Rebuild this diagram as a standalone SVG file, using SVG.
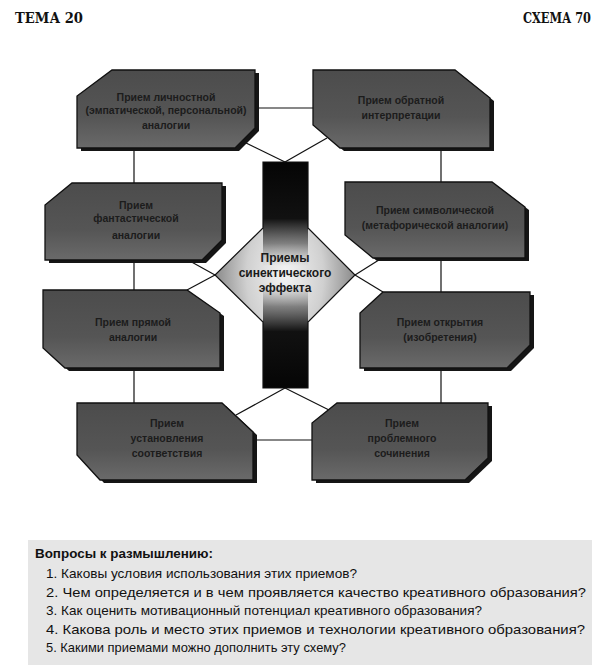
<svg xmlns="http://www.w3.org/2000/svg" width="607" height="671" viewBox="0 0 607 671">
<style>
.hdr{font-family:"DejaVu Serif","Liberation Serif",serif;font-weight:bold;font-size:14px;fill:#111}
.box{fill:url(#boxg);stroke:#111;stroke-width:1.3}
.shd{fill:#151515}
.bt{font-family:"Liberation Sans",Arial,sans-serif;font-weight:bold;font-size:10.5px;fill:#1c1c1c;text-anchor:middle}
.ct{font-family:"Liberation Sans",Arial,sans-serif;font-weight:bold;font-size:12px;fill:#1a1a1a;text-anchor:middle}
.ln{stroke:#111;stroke-width:1.2;fill:none}
.qt{font-family:"Liberation Sans",Arial,sans-serif;font-size:13.5px;fill:#111}
.qh{font-family:"Liberation Sans",Arial,sans-serif;font-size:13.5px;font-weight:bold;fill:#111}
</style>
<defs>
<linearGradient id="boxg" x1="0" y1="0" x2="0" y2="1">
<stop offset="0" stop-color="#4c4c4c"/>
<stop offset="0.6" stop-color="#555"/>
<stop offset="1" stop-color="#6a6a6a"/>
</linearGradient>
<radialGradient id="dg" cx="0.5" cy="0.5" r="0.5">
<stop offset="0" stop-color="#f4f4f4"/>
<stop offset="0.55" stop-color="#d0d0d0"/>
<stop offset="1" stop-color="#8a8a8a"/>
</radialGradient>
<linearGradient id="barg" gradientUnits="userSpaceOnUse" x1="0" y1="162" x2="0" y2="388">
<stop offset="0" stop-color="#050505" stop-opacity="1"/>
<stop offset="0.25" stop-color="#111" stop-opacity="1"/>
<stop offset="0.36" stop-color="#555" stop-opacity="0.7"/>
<stop offset="0.46" stop-color="#999" stop-opacity="0"/>
<stop offset="0.54" stop-color="#999" stop-opacity="0"/>
<stop offset="0.64" stop-color="#555" stop-opacity="0.7"/>
<stop offset="0.75" stop-color="#111" stop-opacity="1"/>
<stop offset="1" stop-color="#050505" stop-opacity="1"/>
</linearGradient>
</defs>
<rect width="607" height="671" fill="#fff"/>

<text class="hdr" x="15" y="23" textLength="68" lengthAdjust="spacingAndGlyphs">ТЕМА 20</text>
<text class="hdr" x="523" y="23" textLength="68" lengthAdjust="spacingAndGlyphs">СХЕМА 70</text>

<g id="connectors">
<line class="ln" x1="255" y1="108" x2="313" y2="108"/>
<line class="ln" x1="242" y1="141" x2="285" y2="162"/>
<line class="ln" x1="327" y1="138" x2="285" y2="162"/>
<line class="ln" x1="134" y1="148" x2="134" y2="183"/>
<line class="ln" x1="134" y1="260" x2="134" y2="290"/>
<line class="ln" x1="134" y1="368" x2="134" y2="403"/>
<line class="ln" x1="441" y1="148" x2="441" y2="182"/>
<line class="ln" x1="441" y1="258" x2="441" y2="292"/>
<line class="ln" x1="441" y1="368" x2="441" y2="403"/>
<line class="ln" x1="215" y1="275" x2="188" y2="260"/>
<line class="ln" x1="215" y1="275" x2="187" y2="290"/>
<line class="ln" x1="355" y1="275" x2="382" y2="258"/>
<line class="ln" x1="355" y1="275" x2="383" y2="292"/>
<line class="ln" x1="285" y1="388" x2="236" y2="415"/>
<line class="ln" x1="285" y1="388" x2="329" y2="410"/>
<line class="ln" x1="253" y1="440" x2="312" y2="440"/>
</g>

<g id="center">
<path d="M263,162 H308 V228 L355,275 L308,322 V388 H263 V322 L215,275 L263,228 Z" fill="url(#dg)"/>
<rect x="263" y="162" width="45" height="226" fill="url(#barg)"/>
<path d="M263,162 H308 V228 L355,275 L308,322 V388 H263 V322 L215,275 L263,228 Z" fill="none" stroke="#111" stroke-width="1.2"/>
<text class="ct" x="285" y="262">Приемы</text>
<text class="ct" x="285" y="277">синектического</text>
<text class="ct" x="285" y="292">эффекта</text>
</g>

<g id="n-tl1">
<polygon class="shd" points="116,73 259,73 259,131 239,151 81,151 81,99"/>
<polygon class="box" points="112,70 255,70 255,128 235,148 77,148 77,96"/>
<text class="bt" x="166" y="101">Прием личностной</text>
<text class="bt" x="166" y="114">(эмпатической, персональной)</text>
<text class="bt" x="166" y="129">аналогии</text>
</g>

<g id="n-tr1">
<polygon class="shd" points="317,73 459,73 494,101 494,151 344,151 317,128"/>
<polygon class="box" points="313,70 455,70 490,98 490,148 340,148 313,125"/>
<text class="bt" x="401" y="104">Прием обратной</text>
<text class="bt" x="401" y="119">интерпретации</text>
</g>

<g id="n-l2">
<polygon class="shd" points="76,186 226,186 226,243 206,263 49,263 49,208"/>
<polygon class="box" points="72,183 222,183 222,240 202,260 45,260 45,205"/>
<text class="bt" x="136" y="209">Прием</text>
<text class="bt" x="136" y="222">фантастической</text>
<text class="bt" x="136" y="239">аналогии</text>
</g>

<g id="n-r2">
<polygon class="shd" points="349,185 496,185 529,210 529,261 377,261 349,238"/>
<polygon class="box" points="345,182 492,182 525,207 525,258 373,258 345,235"/>
<text class="bt" x="435" y="214">Прием символической</text>
<text class="bt" x="435" y="229">(метафорической аналогии)</text>
</g>

<g id="n-l3">
<polygon class="shd" points="47,293 191,293 224,316 224,371 69,371 47,351"/>
<polygon class="box" points="43,290 187,290 220,313 220,368 65,368 43,348"/>
<text class="bt" x="133" y="326">Прием прямой</text>
<text class="bt" x="133" y="341">аналогии</text>
</g>

<g id="n-r3">
<polygon class="shd" points="387,295 534,295 534,348 511,371 364,371 364,316"/>
<polygon class="box" points="383,292 530,292 530,345 507,368 360,368 360,313"/>
<text class="bt" x="440" y="326">Прием открытия</text>
<text class="bt" x="440" y="341">(изобретения)</text>
</g>

<g id="n-bl">
<polygon class="shd" points="81,406 226,406 257,435 257,483 104,483 81,458"/>
<polygon class="box" points="77,403 222,403 253,432 253,480 100,480 77,455"/>
<text class="bt" x="167" y="427">Прием</text>
<text class="bt" x="167" y="442">установления</text>
<text class="bt" x="167" y="457">соответствия</text>
</g>

<g id="n-br">
<polygon class="shd" points="341,406 492,406 492,461 469,483 316,483 316,426"/>
<polygon class="box" points="337,403 488,403 488,458 465,480 312,480 312,423"/>
<text class="bt" x="402" y="427">Прием</text>
<text class="bt" x="402" y="442">проблемного</text>
<text class="bt" x="402" y="457">сочинения</text>
</g>

<g id="questions">
<rect x="28" y="540" width="564" height="125" fill="#e6e6e6"/>
<text class="qh" x="35" y="558" textLength="178" lengthAdjust="spacingAndGlyphs">Вопросы к размышлению:</text>
<text class="qt" x="46" y="578" textLength="311" lengthAdjust="spacingAndGlyphs">1. Каковы условия использования этих приемов?</text>
<text class="qt" x="46" y="597" textLength="540" lengthAdjust="spacingAndGlyphs">2. Чем определяется и в чем проявляется качество креативного образования?</text>
<text class="qt" x="46" y="615" textLength="436" lengthAdjust="spacingAndGlyphs">3. Как оценить мотивационный потенциал креативного образования?</text>
<text class="qt" x="46" y="634" textLength="539" lengthAdjust="spacingAndGlyphs">4. Какова роль и место этих приемов и технологии креативного образования?</text>
<text class="qt" x="46" y="652" textLength="300" lengthAdjust="spacingAndGlyphs">5. Какими приемами можно дополнить эту схему?</text>
</g>
</svg>
